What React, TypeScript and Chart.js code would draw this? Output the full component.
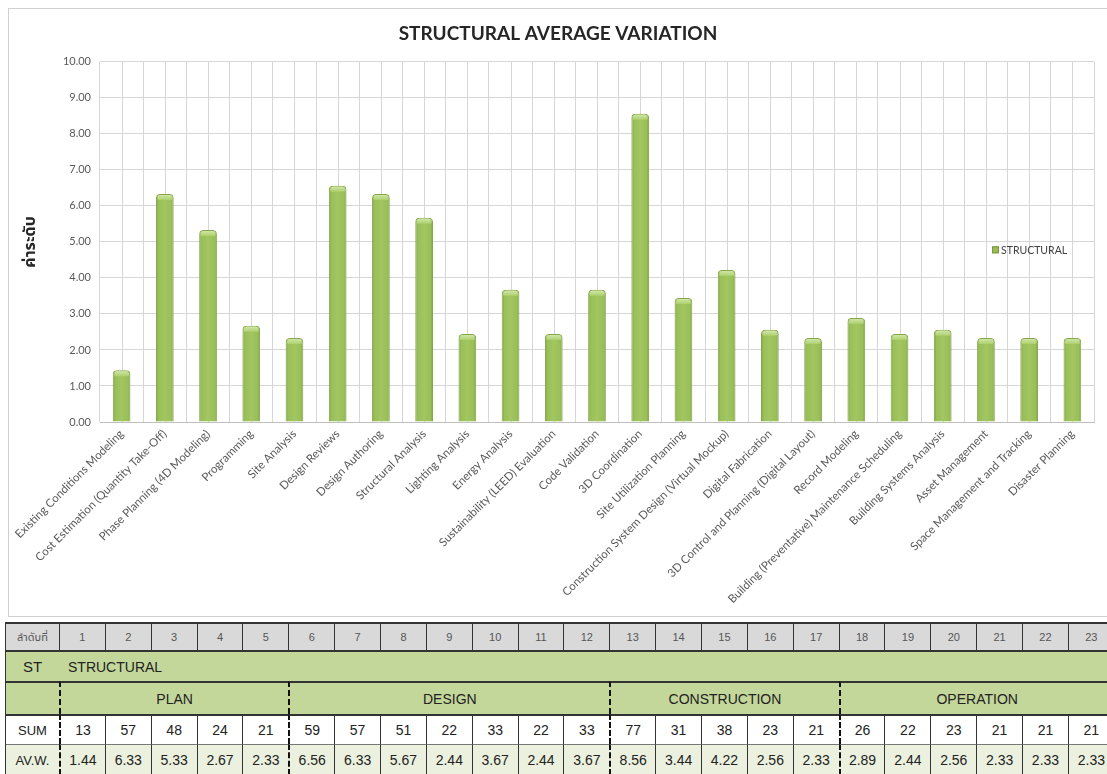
import React, { useEffect, useRef } from "react";
import { Chart, registerables } from "chart.js";

Chart.register(...registerables);

// BIM uses, in the order of the survey
const categories: string[] = [
  "Existing Conditions Modeling",
  "Cost Estimation (Quantity Take-Off)",
  "Phase Planning (4D Modeling)",
  "Programming",
  "Site Analysis",
  "Design Reviews",
  "Design Authoring",
  "Structural Analysis",
  "Lighting Analysis",
  "Energy Analysis",
  "Sustainability (LEED) Evaluation",
  "Code Validation",
  "3D Coordination",
  "Site Utilization Planning",
  "Construction System Design (Virtual Mockup)",
  "Digital Fabrication",
  "3D Control and Planning (Digital Layout)",
  "Record Modeling",
  "Building (Preventative) Maintenance Scheduling",
  "Building Systems Analysis",
  "Asset Management",
  "Space Management and Tracking",
  "Disaster Planning",
];

// Weighted sums and averages for the structural discipline
const sums: number[] = [13, 57, 48, 24, 21, 59, 57, 51, 22, 33, 22, 33, 77, 31, 38, 23, 21, 26, 22, 23, 21, 21, 21];
const averages: number[] = [
  1.44, 6.33, 5.33, 2.67, 2.33, 6.56, 6.33, 5.67, 2.44, 3.67, 2.44, 3.67, 8.56, 3.44, 4.22, 2.56, 2.33, 2.89, 2.44,
  2.56, 2.33, 2.33, 2.33,
];

// Project phases and how many uses fall in each
const phaseNames: string[] = ["PLAN", "DESIGN", "CONSTRUCTION", "OPERATION"];
const phaseSpans: number[] = [5, 7, 5, 6];

const yTicks: number[] = [0, 1, 2, 3, 4, 5, 6, 7, 8, 9, 10];

const seriesName = "STRUCTURAL";
const chartTitle = "STRUCTURAL AVERAGE VARIATION";
const yTitle = "ค่าระดับ";

const BAR_PCT = 0.41;
const GRID = "#d6d6d6";

const barFill = (c: any) => {
  const chart = c.chart;
  const xs = chart.scales?.x;
  const area = chart.chartArea;
  if (!xs || !area || c.dataIndex === undefined) return "#9dc35a";
  const cx = xs.getPixelForValue(c.dataIndex);
  const w = ((area.right - area.left) / categories.length) * BAR_PCT;
  const g = chart.ctx.createLinearGradient(cx - w / 2, 0, cx + w / 2, 0);
  g.addColorStop(0, "#809f45");
  g.addColorStop(0.14, "#99bf58");
  g.addColorStop(0.5, "#a2c661");
  g.addColorStop(0.86, "#99bf58");
  g.addColorStop(1, "#809f45");
  return g;
};

// vertical lines through every category centre, under the bars
const centreLines = {
  id: "centreLines",
  beforeDatasetsDraw(chart: any) {
    const { ctx, chartArea: a, scales } = chart;
    ctx.save();
    ctx.strokeStyle = GRID;
    ctx.lineWidth = 1;
    categories.forEach((_, i) => {
      const x = Math.round(scales.x.getPixelForValue(i)) + 0.5;
      ctx.beginPath();
      ctx.moveTo(x, a.top);
      ctx.lineTo(x, a.bottom);
      ctx.stroke();
    });
    ctx.restore();
  },
};

// light bevelled cap on top of each column
const barCaps = {
  id: "barCaps",
  afterDatasetsDraw(chart: any) {
    const { ctx } = chart;
    const meta = chart.getDatasetMeta(0);
    ctx.save();
    meta.data.forEach((el: any) => {
      const left = el.x - el.width / 2 + 1.5;
      const w = el.width - 3;
      const top = el.y + 1;
      const g = ctx.createLinearGradient(0, top, 0, top + 5);
      g.addColorStop(0, "#cfe6a6");
      g.addColorStop(1, "#acd06c");
      ctx.fillStyle = g;
      ctx.beginPath();
      ctx.roundRect(left, top, w, 5, [3, 3, 1, 1]);
      ctx.fill();
    });
    ctx.restore();
  },
};

// legend drawn over the right side of the plot
const sideLegend = {
  id: "sideLegend",
  afterDraw(chart: any) {
    const { ctx, chartArea: a } = chart;
    const x = a.right - 102;
    const y = a.top + (a.bottom - a.top) * 0.522;
    ctx.save();
    ctx.fillStyle = "#9bbb59";
    ctx.fillRect(x, y - 3.5, 7, 7);
    ctx.strokeStyle = "#7a9a3a";
    ctx.strokeRect(x + 0.5, y - 3, 6, 6);
    ctx.fillStyle = "#404040";
    ctx.font = "10.5px Lato, 'Liberation Sans', sans-serif";
    ctx.textBaseline = "middle";
    ctx.fillText(seriesName, x + 9, y + 0.5);
    ctx.restore();
  },
};

function BarChart() {
  const ref = useRef<HTMLCanvasElement | null>(null);
  useEffect(() => {
    if (!ref.current) return;
    const chart = new Chart(ref.current, {
      type: "bar",
      data: {
        labels: categories,
        datasets: [
          {
            label: seriesName,
            data: averages,
            backgroundColor: barFill,
            borderColor: "#86a64a",
            borderWidth: 1,
            borderRadius: { topLeft: 4, topRight: 4, bottomLeft: 0, bottomRight: 0 },
            borderSkipped: "bottom",
            barPercentage: BAR_PCT,
            categoryPercentage: 1,
          },
        ],
      },
      options: {
        animation: false,
        responsive: false,
        maintainAspectRatio: false,
        layout: { padding: { left: 13, right: 13, top: 0, bottom: 0 } },
        plugins: {
          legend: { display: false },
          tooltip: { enabled: false },
          title: {
            display: true,
            text: chartTitle,
            color: "#262626",
            font: { family: "Lato, 'Liberation Sans', sans-serif", size: 19, weight: "bold" },
            padding: { top: 13, bottom: 17 },
          },
        },
        scales: {
          x: {
            grid: { offset: true, color: GRID, drawTicks: false },
            border: { color: "#bfbfbf" },
            ticks: {
              autoSkip: false,
              maxRotation: 45,
              minRotation: 45,
              padding: 5,
              color: "#595959",
              font: { family: "Lato, 'Liberation Sans', sans-serif", size: 11.5 },
            },
            afterFit: (s: any) => {
              s.height = 194;
            },
          },
          y: {
            min: 0,
            max: 10,
            afterBuildTicks: (s: any) => {
              s.ticks = yTicks.map((v) => ({ value: v }));
            },
            grid: { color: GRID, drawTicks: false },
            border: { display: false },
            ticks: {
              padding: 9,
              color: "#595959",
              font: { family: "Lato, 'Liberation Sans', sans-serif", size: 11 },
              callback: (v: any) => Number(v).toFixed(2),
            },
            title: {
              display: true,
              text: yTitle,
              color: "#262626",
              font: { family: "'Noto Sans Thai', 'Noto Sans', sans-serif", size: 16, weight: "bold" },
              padding: { top: 0, bottom: 4 },
            },
            afterFit: (s: any) => {
              s.width = 78;
            },
          },
        },
      },
      plugins: [centreLines, barCaps, sideLegend],
    });
    return () => chart.destroy();
  }, []);
  return <canvas ref={ref} width={1098} height={607} style={{ display: "block" }} />;
}

const FIRST_W = 53;
const COL_W = 45.87;
const DARK = "#333333";
const DASH = "2px dashed #111111";
const TFONT = "'Liberation Sans', Arial, sans-serif";

// column index where each phase starts
const phaseStarts: number[] = phaseSpans.reduce<number[]>((acc, n, i) => {
  acc.push(i === 0 ? 0 : acc[i - 1] + phaseSpans[i - 1]);
  return acc;
}, []);

function SummaryTable() {
  const cellBase: React.CSSProperties = {
    padding: 0,
    textAlign: "center",
    verticalAlign: "middle",
    boxSizing: "border-box",
    whiteSpace: "nowrap",
    overflow: "hidden",
  };
  const numLeft = (i: number) => (phaseStarts.includes(i) ? DASH : `1px solid ${DARK}`);
  return (
    <table
      style={{
        position: "absolute",
        left: 5,
        top: 622,
        width: FIRST_W + COL_W * categories.length,
        tableLayout: "fixed",
        borderCollapse: "separate",
        borderSpacing: 0,
        fontFamily: TFONT,
        borderTop: `2px solid ${DARK}`,
        borderLeft: `1px solid ${DARK}`,
      }}
    >
      <colgroup>
        <col style={{ width: FIRST_W }} />
        {categories.map((_, i) => (
          <col key={i} style={{ width: COL_W }} />
        ))}
      </colgroup>
      <tbody>
        <tr style={{ height: 26, background: "#d9d9d9" }}>
          <td style={{ ...cellBase, fontSize: 11, color: "#555", fontFamily: "'Noto Sans Thai', " + TFONT }}>ลำดับที่</td>
          {categories.map((_, i) => (
            <td key={i} style={{ ...cellBase, fontSize: 11, color: "#555", borderLeft: `1px solid ${DARK}` }}>
              {i + 1}
            </td>
          ))}
        </tr>
        <tr style={{ height: 31, background: "#c4d79b" }}>
          <td style={{ ...cellBase, fontSize: 15, color: "#222", borderTop: `2px solid ${DARK}` }}>ST</td>
          <td
            colSpan={categories.length}
            style={{ ...cellBase, textAlign: "left", paddingLeft: 9, fontSize: 14, color: "#222", borderTop: `2px solid ${DARK}` }}
          >
            {seriesName}
          </td>
        </tr>
        <tr style={{ height: 33, background: "#c4d79b" }}>
          <td style={{ ...cellBase, borderTop: `2px solid ${DARK}` }} />
          {phaseNames.map((p, k) => (
            <td
              key={p}
              colSpan={phaseSpans[k]}
              style={{ ...cellBase, fontSize: 14, color: "#222", borderTop: `2px solid ${DARK}`, borderLeft: DASH }}
            >
              {p}
            </td>
          ))}
        </tr>
        <tr style={{ height: 30, background: "#ffffff" }}>
          <td style={{ ...cellBase, fontSize: 13, color: "#222", borderTop: `2px solid ${DARK}` }}>SUM</td>
          {sums.map((v, i) => (
            <td
              key={i}
              style={{ ...cellBase, fontSize: 14, color: "#222", borderTop: `2px solid ${DARK}`, borderLeft: numLeft(i) }}
            >
              {v}
            </td>
          ))}
        </tr>
        <tr style={{ height: 31, background: "#ebf1de" }}>
          <td style={{ ...cellBase, fontSize: 13, color: "#222", borderTop: "1px solid #777" }}>AV.W.</td>
          {averages.map((v, i) => (
            <td
              key={i}
              style={{ ...cellBase, fontSize: 14, color: "#222", borderTop: "1px solid #777", borderLeft: numLeft(i) }}
            >
              {v.toFixed(2)}
            </td>
          ))}
        </tr>
      </tbody>
    </table>
  );
}

export default function App() {
  return (
    <div
      style={{
        position: "absolute",
        left: 0,
        top: 0,
        width: 1107,
        height: 774,
        overflow: "hidden",
        background: "#ffffff",
      }}
    >
      <div
        style={{
          position: "absolute",
          left: 8,
          top: 8,
          width: 1110,
          height: 609,
          border: "1px solid #d0d0d0",
          boxSizing: "border-box",
        }}
      >
        <BarChart />
      </div>
      <SummaryTable />
    </div>
  );
}
